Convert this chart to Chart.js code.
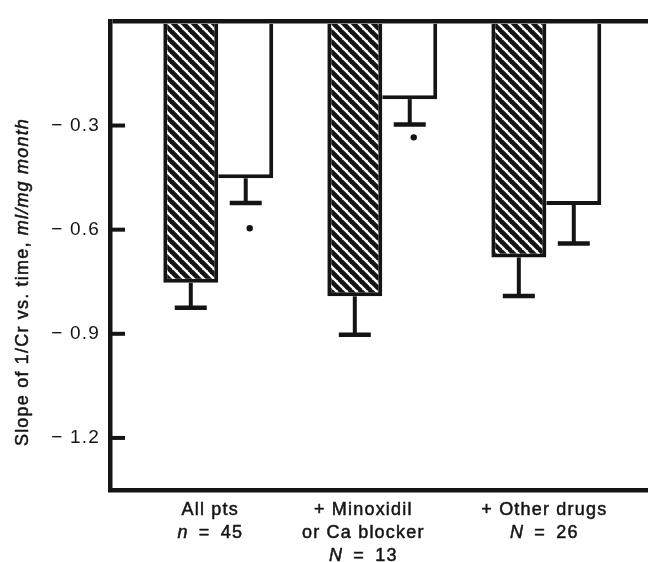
<!DOCTYPE html>
<html lang="en">
<head>
  <meta charset="UTF-8">
  <title>Slope of 1/Cr vs. time</title>
  <script src="https://cdn.jsdelivr.net/npm/chart.js"></script>
  <style>
    body {
      margin: 0;
      padding: 0;
      background: #fff;
    }
    canvas {
      display: block;
    }
  </style>
</head>
<body>
  <canvas id="slopeChart" width="648" height="562"></canvas>

  <script>
    // group labels (lines), "n"/"N" drawn in italics
    const groupLabels = [
      ['All pts', 'n = 45'],
      ['+ Minoxidil', 'or Ca blocker', 'N = 13'],
      ['+ Other drugs', 'N = 26']
    ];
    const groupX = [0, 1, 2];

    // hatched bars
    const hatchedValues = [-0.753, -0.792, -0.680];
    const hatchedErr = [0.072, 0.111, 0.111];
    // open bars
    const openValues = [-0.452, -0.224, -0.529];
    const openErr = [0.071, 0.073, 0.111];
    // significance marks under the open bars
    const openStarY = [-0.596, -0.334, null];

    const yTitle = 'Slope of 1/Cr vs. time, ';
    const yTitleItalic = 'ml/mg month';

    const ink = '#141414';
    const fontFamily = '"Liberation Sans", Arial, sans-serif';

    function hatchPattern() {
      const s = 10;
      const p = document.createElement('canvas');
      p.width = s;
      p.height = s;
      const c = p.getContext('2d');
      c.fillStyle = '#fff';
      c.fillRect(0, 0, s, s);
      c.strokeStyle = ink;
      c.lineWidth = 4.6;
      for (const o of [-s, 0, s]) {
        c.beginPath();
        c.moveTo(o - 1, -1);
        c.lineTo(o + s + 1, s + 1);
        c.stroke();
      }
      return c.createPattern(p, 'repeat');
    }

    // text drawn a little heavier, like the printed figure
    function inkText(ctx, s, x, y) {
      ctx.fillText(s, x, y);
      ctx.strokeText(s, x, y);
    }

    const errorBars = {
      id: 'errorBars',
      afterDatasetsDraw(chart) {
        const ctx = chart.ctx;
        const y = chart.scales.y;
        const errs = [hatchedErr, openErr];
        ctx.save();
        ctx.strokeStyle = ink;
        ctx.fillStyle = ink;
        chart.data.datasets.forEach((ds, d) => {
          const meta = chart.getDatasetMeta(d);
          meta.data.forEach((bar, i) => {
            const v = ds.data[i].y;
            const y0 = y.getPixelForValue(v);
            const y1 = y.getPixelForValue(v - errs[d][i]);
            ctx.lineWidth = 4;
            ctx.beginPath();
            ctx.moveTo(bar.x, y0);
            ctx.lineTo(bar.x, y1);
            ctx.stroke();
            ctx.lineWidth = 4.5;
            ctx.beginPath();
            ctx.moveTo(bar.x - 16, y1);
            ctx.lineTo(bar.x + 16, y1);
            ctx.stroke();
            if (d === 1 && openStarY[i] !== null) {
              ctx.beginPath();
              ctx.arc(bar.x + 4, y.getPixelForValue(openStarY[i]), 3.2, 0, Math.PI * 2);
              ctx.fill();
            }
          });
        });
        ctx.restore();
      }
    };

    // inward tick marks, axis title and category labels
    const frameText = {
      id: 'frameText',
      beforeDraw(chart) {
        chart.ctx.letterSpacing = '1.2px';
      },
      afterDraw(chart) {
        const ctx = chart.ctx;
        const area = chart.chartArea;
        const y = chart.scales.y;
        const x = chart.scales.x;
        ctx.save();
        ctx.strokeStyle = ink;
        ctx.fillStyle = ink;
        ctx.lineWidth = 4;
        y.ticks.forEach(t => {
          if (Math.abs(t.value) < 1e-9) return;
          const py = y.getPixelForValue(t.value);
          ctx.beginPath();
          ctx.moveTo(area.left, py);
          ctx.lineTo(area.left + 15, py);
          ctx.stroke();
        });

        // y title, mixed roman / italic
        ctx.letterSpacing = '1.2px';
        ctx.lineWidth = 0.5;
        const normal = '18px ' + fontFamily;
        const italic = 'italic 18px ' + fontFamily;
        ctx.font = normal;
        const w1 = ctx.measureText(yTitle).width;
        ctx.font = italic;
        const w2 = ctx.measureText(yTitleItalic).width;
        ctx.translate(23, 282);
        ctx.rotate(-Math.PI / 2);
        ctx.textBaseline = 'middle';
        ctx.textAlign = 'left';
        ctx.font = normal;
        inkText(ctx, yTitle, -(w1 + w2) / 2, 0);
        ctx.font = italic;
        inkText(ctx, yTitleItalic, -(w1 + w2) / 2 + w1, 0);
        ctx.setTransform(1, 0, 0, 1, 0, 0);

        // category labels under the axis
        const shift = [-8, -19, -2];
        ctx.textBaseline = 'alphabetic';
        groupLabels.forEach((lines, i) => {
          const cx = x.getPixelForValue(groupX[i]) + shift[i];
          lines.forEach((line, k) => {
            const by = area.bottom + 25 + k * 23;
            const m = line.match(/^([nN]) = (.*)$/);
            if (m) {
              const rest = '\u2002=\u2002' + m[2];
              ctx.font = italic;
              const a = ctx.measureText(m[1]).width;
              ctx.font = normal;
              const b = ctx.measureText(rest).width;
              const sx = cx - (a + b) / 2;
              ctx.textAlign = 'left';
              ctx.font = italic;
              inkText(ctx, m[1], sx, by);
              ctx.font = normal;
              inkText(ctx, rest, sx + a, by);
            } else {
              ctx.font = normal;
              ctx.textAlign = 'center';
              inkText(ctx, line, cx, by);
            }
          });
        });
        ctx.restore();
      }
    };

    const ctx = document.getElementById('slopeChart').getContext('2d');
    const hatch = hatchPattern();

    new Chart(ctx, {
      type: 'bar',
      data: {
        datasets: [
          {
            label: 'hatched',
            data: groupX.map((gx, i) => ({ x: gx, y: hatchedValues[i] })),
            backgroundColor: hatch,
            borderColor: ink,
            borderWidth: { left: 4, right: 4, bottom: 4, top: 0 }
          },
          {
            label: 'open',
            data: groupX.map((gx, i) => ({ x: gx, y: openValues[i] })),
            backgroundColor: '#fff',
            borderColor: ink,
            borderWidth: { left: 0, right: 4, bottom: 4, top: 0 }
          }
        ]
      },
      options: {
        responsive: false,
        animation: false,
        categoryPercentage: 0.67,
        barPercentage: 1,
        layout: { padding: { top: 13, right: 0, bottom: 0, left: 0 } },
        plugins: {
          legend: { display: false },
          tooltip: { enabled: false }
        },
        scales: {
          x: {
            type: 'linear',
            offset: false,
            min: -0.66,
            max: 2.62,
            ticks: { display: false, stepSize: 1, includeBounds: false },
            grid: { display: false, offset: false },
            border: { display: true, color: ink, width: 4.5 },
            afterFit(scale) { scale.height = 72; }
          },
          y: {
            min: -1.35,
            max: 0,
            ticks: {
              stepSize: 0.3,
              includeBounds: false,
              padding: 10,
              color: ink,
              font: { family: fontFamily, size: 19 },
              callback: v => (Math.abs(v) < 1e-9 ? '' : '\u2212 ' + Math.abs(v).toFixed(1))
            },
            grid: {
              drawTicks: false,
              color: c => (c.tick && Math.abs(c.tick.value) < 1e-9 ? ink : 'rgba(0,0,0,0)'),
              lineWidth: c => (c.tick && Math.abs(c.tick.value) < 1e-9 ? 4.5 : 0)
            },
            border: { display: true, color: ink, width: 4.5 },
            afterFit(scale) { scale.width = 110; }
          }
        }
      },
      plugins: [errorBars, frameText]
    });
  </script>
</body>
</html>
